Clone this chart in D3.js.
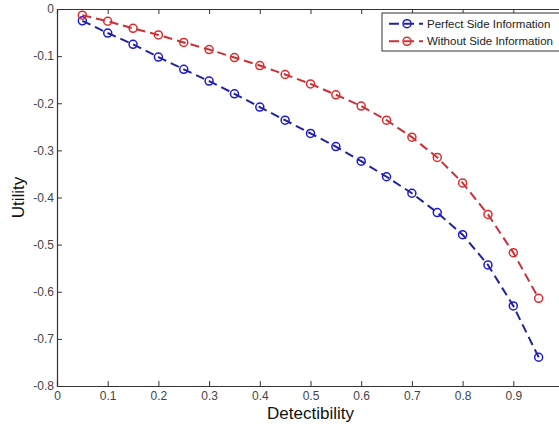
<!DOCTYPE html>
<html>
<head>
<meta charset="utf-8">
<script src="https://cdn.jsdelivr.net/npm/d3@7"></script>
<style>
  body { margin: 0; background: #fff; }
  text { font-family: "Liberation Sans", Arial, sans-serif; }
</style>
</head>
<body>
<script>
// basic settings
const width = 559;
const height = 428;
const marginLeft = 57;
const marginTop = 9;
const plotW = 507;   // right edge falls just outside the picture
const plotH = 377;

// data
const detect = [0.05, 0.1, 0.15, 0.2, 0.25, 0.3, 0.35, 0.4, 0.45, 0.5,
                0.55, 0.6, 0.65, 0.7, 0.75, 0.8, 0.85, 0.9, 0.95];
const perfect = [-0.025, -0.051, -0.075, -0.102, -0.128, -0.153, -0.180, -0.208, -0.236, -0.264,
                 -0.292, -0.323, -0.356, -0.391, -0.432, -0.479, -0.543, -0.630, -0.739];
const without = [-0.013, -0.026, -0.041, -0.055, -0.071, -0.086, -0.103, -0.120, -0.139, -0.159,
                 -0.182, -0.206, -0.236, -0.272, -0.315, -0.369, -0.436, -0.517, -0.614];
const seriesNames = ["Perfect Side Information", "Without Side Information"];
const xTicks = [0, 0.1, 0.2, 0.3, 0.4, 0.5, 0.6, 0.7, 0.8, 0.9, 1];
const yTicks = [0, -0.1, -0.2, -0.3, -0.4, -0.5, -0.6, -0.7, -0.8];

const lineColors = ["#22229e", "#c8303a"];
const markColors = ["#1a1ad0", "#e02a2a"];

const series = [perfect, without].map((vals, i) => ({
  name: seriesNames[i],
  points: vals.map((v, j) => ({x: detect[j], y: v}))
}));

const x = d3.scaleLinear().domain([0, 1]).range([marginLeft, marginLeft + plotW]);
const y = d3.scaleLinear().domain([-0.8, 0]).range([marginTop + plotH, marginTop]);

const svg = d3.select('body')
  .append('svg')
  .attr('width', width)
  .attr('height', height);

// MATLAB style labels: "0", "0.1", "-0.1"
const fmt = d => d === 0 ? "0" : d.toFixed(1);

// axes (ticks point inward, MATLAB-like box)
const xAxisB = d3.axisBottom(x).tickValues(xTicks).tickSize(-5).tickPadding(5)
  .tickFormat(d => d === 1 ? "" : fmt(d));
const xAxisT = d3.axisTop(x).tickValues(xTicks).tickSize(-5).tickFormat("");
const yAxisL = d3.axisLeft(y).tickValues(yTicks).tickSize(-5).tickPadding(3).tickFormat(fmt);

function styleAxis(g) {
  g.select('.domain').attr('stroke', '#333').attr('stroke-width', 1.2);
  g.selectAll('.tick line').attr('stroke', '#333');
  g.selectAll('.tick text').attr('fill', '#444').style('font-size', '12px');
}

svg.append('g').attr('transform', `translate(0,${marginTop + plotH})`).call(xAxisB).call(styleAxis);
svg.append('g').attr('transform', `translate(0,${marginTop})`).call(xAxisT).call(styleAxis);
svg.append('g').attr('transform', `translate(${marginLeft},0)`).call(yAxisL).call(styleAxis);

// series
const line = d3.line().x(d => x(d.x)).y(d => y(d.y));

const sg = svg.selectAll('g.series')
  .data(series)
  .enter()
  .append('g')
  .attr('class', 'series');

sg.append('path')
  .attr('d', d => line(d.points))
  .attr('fill', 'none')
  .attr('stroke', (d, i) => lineColors[i])
  .attr('stroke-width', 2)
  .attr('stroke-dasharray', '9,5');

sg.each(function (d, i) {
  d3.select(this).selectAll('circle')
    .data(d.points)
    .enter()
    .append('circle')
    .attr('cx', p => x(p.x))
    .attr('cy', p => y(p.y))
    .attr('r', 4)
    .attr('fill', 'none')
    .attr('stroke', markColors[i])
    .attr('stroke-width', 1.5);
});

// axis labels
svg.append('text')
  .attr('x', x(0.5))
  .attr('y', 419)
  .attr('text-anchor', 'middle')
  .style('font-size', '17px')
  .attr('fill', '#111')
  .text('Detectibility');

svg.append('text')
  .attr('transform', `translate(24,${y(-0.4)}) rotate(-90)`)
  .attr('text-anchor', 'middle')
  .style('font-size', '17px')
  .attr('fill', '#111')
  .text('Utility');

// legend
const legend = svg.append('g').attr('transform', 'translate(382,13)');
legend.append('rect')
  .attr('width', 190).attr('height', 38)
  .attr('fill', '#fff').attr('stroke', '#333').attr('stroke-width', 1);

const items = legend.selectAll('g.item')
  .data(series)
  .enter()
  .append('g')
  .attr('class', 'item')
  .attr('transform', (d, i) => `translate(0,${10.7 + i * 17.6})`);

items.append('line')
  .attr('x1', 7).attr('x2', 41)
  .attr('stroke', (d, i) => lineColors[i])
  .attr('stroke-width', 2)
  .attr('stroke-dasharray', '10,5');
items.append('circle')
  .attr('cx', 25).attr('r', 4)
  .attr('fill', 'none')
  .attr('stroke', (d, i) => markColors[i])
  .attr('stroke-width', 1.5);
items.append('text')
  .attr('x', 45).attr('dy', '0.35em')
  .style('font-size', '11.5px')
  .attr('fill', '#222')
  .text(d => d.name);
</script>
</body>
</html>
